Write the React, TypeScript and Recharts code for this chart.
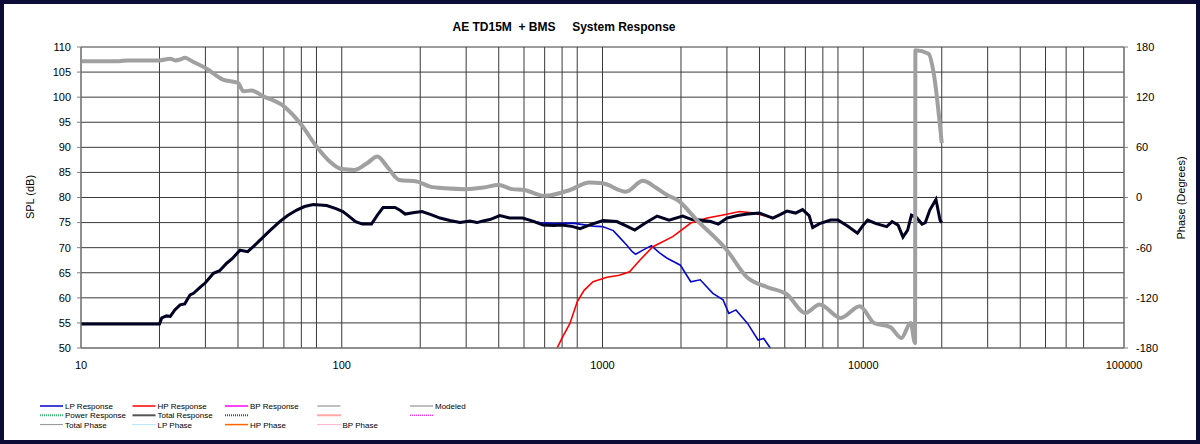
import { CartesianGrid, Line, LineChart, XAxis, YAxis } from "recharts"

// total response (SPL, dB)
const totalFreq = [
  10, 15, 20, 20.4, 21.3, 22, 22.9, 24, 25, 26.2, 27, 28.6, 30, 32.2, 34, 36.2, 38, 40.7, 43.6, 46,
  48.6, 53, 57.8, 62, 67.2, 72, 77.7, 87.5, 95, 101, 107, 113, 120, 130, 137, 144, 160, 168, 175, 190,
  203, 220, 238, 260, 284, 310, 330, 348, 370, 404, 440, 494, 540, 592, 650, 700, 770, 820, 900, 1005,
  1135, 1250, 1330, 1450, 1620, 1800, 2030, 2200, 2370, 2600, 2780, 3000, 3300, 3600, 4000, 4500, 4800, 5100, 5500, 5850,
  6200, 6400, 6800, 7500, 8000, 8700, 9500, 10000, 10400, 11200, 12300, 12900, 13600, 14200, 14800, 15300, 16000, 16800, 17300, 18000,
  19000, 19700, 20000,
]
const totalSpl = [
  54.8, 54.8, 54.8, 56, 56.4, 56.3, 57.6, 58.6, 58.8, 60.6, 60.9, 62.1, 63, 64.9, 65.4, 66.9, 67.8, 69.5, 69.2, 70.3,
  71.5, 73.4, 75.2, 76.4, 77.5, 78.2, 78.6, 78.4, 77.8, 77.2, 76.2, 75.2, 74.7, 74.7, 76.5, 78, 78, 77.4, 76.7, 77,
  77.2, 76.6, 75.9, 75.4, 75.0, 75.3, 75.0, 75.3, 75.6, 76.4, 75.9, 75.9, 75.3, 74.5, 74.4, 74.5, 74.2, 73.8, 74.6, 75.4,
  75.2, 74.2, 73.5, 74.8, 76.3, 75.5, 76.3, 75.6, 75.5, 75.2, 74.7, 75.9, 76.4, 76.7, 76.9, 75.9, 76.6, 77.3, 76.9, 77.6,
  76.4, 74, 74.8, 75.5, 75.5, 74.3, 72.9, 74.5, 75.5, 74.8, 74.2, 75.2, 74.5, 72.1, 73.5, 76.5, 76.0, 74.7, 75.0, 77.5,
  79.6, 75.5, 75,
]

// LP response (SPL, dB), hidden under the total below ~575 Hz
const lpFreq = [
  10, 15, 20, 20.4, 21.3, 22, 22.9, 24, 25, 26.2, 27, 28.6, 30, 32.2, 34, 36.2, 38, 40.7, 43.6, 46,
  48.6, 53, 57.8, 62, 67.2, 72, 77.7, 87.5, 95, 101, 107, 113, 120, 130, 137, 144, 160, 168, 175, 190,
  203, 220, 238, 260, 284, 310, 330, 348, 370, 404, 440, 494, 540, 575, 650, 770, 920, 1000, 1100, 1160,
  1240, 1300, 1340, 1440, 1540, 1650, 1770, 1990, 2180, 2370, 2650, 2900, 3050, 3250, 3600, 3950, 4150, 4400, 4500,
]
const lpSpl = [
  54.8, 54.8, 54.8, 56, 56.4, 56.3, 57.6, 58.6, 58.8, 60.6, 60.9, 62.1, 63, 64.9, 65.4, 66.9, 67.8, 69.5, 69.2, 70.3,
  71.5, 73.4, 75.2, 76.4, 77.5, 78.2, 78.6, 78.4, 77.8, 77.2, 76.2, 75.2, 74.7, 74.7, 76.5, 78, 78, 77.4, 76.7, 77,
  77.2, 76.6, 75.9, 75.4, 75.0, 75.3, 75.0, 75.3, 75.6, 76.4, 75.9, 75.9, 75.3, 75.0, 74.8, 74.9, 74.3, 74.2, 73.4, 72.1,
  70.5, 69.2, 68.7, 69.6, 70.4, 69, 67.9, 66.5, 63.2, 63.6, 60.9, 59.6, 56.9, 57.6, 54.9, 51.6, 51.9, 50, 49,
]

// HP response (SPL, dB), hidden under the total above ~4.5 kHz
const hpFreq = [
  650, 670, 700, 750, 800, 850, 920, 1040, 1160, 1270, 1390, 1560, 1860, 2180, 2520, 2900, 3360, 3800, 4500, 4800,
  5100, 5500, 5850, 6200, 6400, 6800, 7500, 8000, 8700, 9500, 10000, 10400, 11200, 12300, 12900, 13600, 14200, 14800, 15300, 16000,
  16800, 17300, 18000, 19000, 19700, 20000,
]
const hpSpl = [
  48, 50, 52, 54.9, 59.2, 61.5, 63.2, 64.1, 64.5, 65.2, 67.5, 70.2, 72.2, 74.9, 75.9, 76.5, 77.2, 76.9, 75.9, 76.6,
  77.3, 76.9, 77.6, 76.4, 74, 74.8, 75.5, 75.5, 74.3, 72.9, 74.5, 75.5, 74.8, 74.2, 75.2, 74.5, 72.1, 73.5, 76.5, 76.0,
  74.7, 75.0, 77.5, 79.6, 75.5, 75,
]

// total phase (degrees)
const phaseFreq = [
  10, 12, 14, 15, 20, 22, 23, 24, 25, 27, 30, 35, 40, 42, 45, 50, 60, 70, 80, 90,
  100, 112, 125, 137, 150, 166, 195, 218, 250, 300, 350, 400, 450, 500, 600, 750, 890, 1000, 1230, 1430,
  1600, 1770, 1940, 2300, 3000, 3600, 4260, 5100, 6000, 6800, 8200, 9700, 11000, 12700, 14000, 15200, 15800, 15850, 17800, 18600,
  20000,
]
const phaseDeg = [
  163, 163, 163, 164, 164, 166, 164, 165, 167, 162, 155, 141, 137, 127, 128, 121, 109, 87, 61, 43,
  34, 33, 41, 49, 36, 21, 19, 13, 11, 10, 12, 15, 10, 9, 2, 9, 18, 17, 7, 20,
  12, 3, -3, -27, -63, -96, -107, -116, -138, -128, -144, -130, -150, -155, -168, -150, -174, 176, 172, 150,
  65,
]

const decades = [10, 100, 1000, 10000, 100000]
const splTicks = [50, 55, 60, 65, 70, 75, 80, 85, 90, 95, 100, 105, 110]
const phaseTicks = [-180, -120, -60, 0, 60, 120, 180]

const title = "AE TD15M  + BMS     System Response"

const legendRows = [
  [
    { label: "LP Response", color: "#0000cc", dash: "", w: 1.5 },
    { label: "HP Response", color: "#ff0000", dash: "", w: 1.5 },
    { label: "BP Response", color: "#ff00ff", dash: "", w: 1.5 },
    { label: "", color: "#808080", dash: "", w: 1 },
    { label: "Modeled", color: "#808080", dash: "", w: 1 },
  ],
  [
    { label: "Power Response", color: "#3cb371", dash: "1 1", w: 2 },
    { label: "Total Response", color: "#555555", dash: "", w: 2 },
    { label: "", color: "#3333ff", dash: "1 1", w: 2 },
    { label: "", color: "#ff5050", dash: "1 1", w: 2 },
    { label: "", color: "#ff33ff", dash: "1 1", w: 1.5 },
  ],
  [
    { label: "Total Phase", color: "#909090", dash: "", w: 1 },
    { label: "LP Phase", color: "#66ccff", dash: "1 1", w: 1 },
    { label: "HP Phase", color: "#ff6600", dash: "", w: 1.5 },
    { label: "BP Phase", color: "#ff6699", dash: "1 1", w: 1 },
  ],
]

const zip = (fs: number[], vs: number[]) => fs.map((f, i) => ({ f, v: vs[i] }))

const xTicks = decades.slice(0, -1).flatMap((d) => [1, 2, 3, 4, 5, 6, 7, 8, 9].map((m) => m * d)).concat([100000])

const font = "'Liberation Sans', Arial, sans-serif"
const tickStyle = { fontSize: 11, fill: "#000", fontFamily: font }

export default function App() {
  return (
    <div style={{ position: "absolute", left: 0, top: 0, width: 1200, height: 444, background: "#fff", fontFamily: font }}>
      <style>{"body{margin:0}"}</style>
      <LineChart width={1200} height={444} margin={{ top: 47, right: 0, bottom: 66, left: 0 }}>
        <CartesianGrid yAxisId="spl" stroke="#3a3a3a" strokeWidth={1} />
        <XAxis
          dataKey="f"
          type="number"
          scale="log"
          domain={[10, 100000]}
          ticks={xTicks}
          allowDataOverflow
          tickFormatter={(v: number) => (decades.includes(v) ? String(v) : "")}
          tick={tickStyle}
          tickLine={false}
          tickMargin={7}
          axisLine={{ stroke: "#808080" }}
          height={30}
        />
        <YAxis
          yAxisId="spl"
          domain={[50, 110]}
          ticks={splTicks}
          allowDataOverflow
          width={81}
          tick={tickStyle}
          tickSize={4}
          tickMargin={6}
          axisLine={{ stroke: "#808080" }}
          tickLine={{ stroke: "#808080" }}
        />
        <YAxis
          yAxisId="phase"
          orientation="right"
          domain={[-180, 180]}
          ticks={phaseTicks}
          allowDataOverflow
          width={76}
          tick={tickStyle}
          tickSize={4}
          tickMargin={8}
          axisLine={{ stroke: "#808080" }}
          tickLine={{ stroke: "#808080" }}
        />
        <Line yAxisId="spl" data={zip(lpFreq, lpSpl)} dataKey="v" type="linear" stroke="#0a0acc" strokeWidth={1.6} dot={false} isAnimationActive={false} />
        <Line yAxisId="spl" data={zip(hpFreq, hpSpl)} dataKey="v" type="linear" stroke="#ff0000" strokeWidth={1.6} dot={false} isAnimationActive={false} />
        <Line yAxisId="spl" data={zip(totalFreq, totalSpl)} dataKey="v" type="linear" stroke="#000022" strokeWidth={3} dot={false} isAnimationActive={false} />
        <Line yAxisId="phase" data={zip(phaseFreq, phaseDeg)} dataKey="v" type="monotone" stroke="#a0a0a0" strokeWidth={4} dot={false} isAnimationActive={false} />
      </LineChart>

      <div style={{ position: "absolute", left: 564, top: 20, transform: "translateX(-50%)", fontSize: 12, fontWeight: "bold", whiteSpace: "pre", color: "#000" }}>
        {title}
      </div>
      <div style={{ position: "absolute", left: 30, top: 197, transform: "translate(-50%, -50%) rotate(-90deg)", fontSize: 11, whiteSpace: "nowrap" }}>
        SPL (dB)
      </div>
      <div style={{ position: "absolute", left: 1181, top: 198, transform: "translate(-50%, -50%) rotate(-90deg)", fontSize: 11, whiteSpace: "nowrap" }}>
        Phase (Degrees)
      </div>

      <svg width={1200} height={40} style={{ position: "absolute", left: 0, top: 400 }}>
        {legendRows.map((row, r) =>
          row.map((e, c) => {
            const x = 40 + c * 92.5
            const y = 6 + r * 9.3
            return (
              <g key={`${r}-${c}`}>
                <line x1={x} x2={x + 23} y1={y} y2={y} stroke={e.color} strokeWidth={e.w} strokeDasharray={e.dash || undefined} />
                {e.label && (
                  <text x={x + 25} y={y + 3} fontSize={8} fontFamily={font} fill="#000">
                    {e.label}
                  </text>
                )}
              </g>
            )
          })
        )}
      </svg>

      <div style={{ position: "absolute", inset: 0, border: "4px solid #0c0c36", boxSizing: "border-box", pointerEvents: "none" }} />
    </div>
  )
}
